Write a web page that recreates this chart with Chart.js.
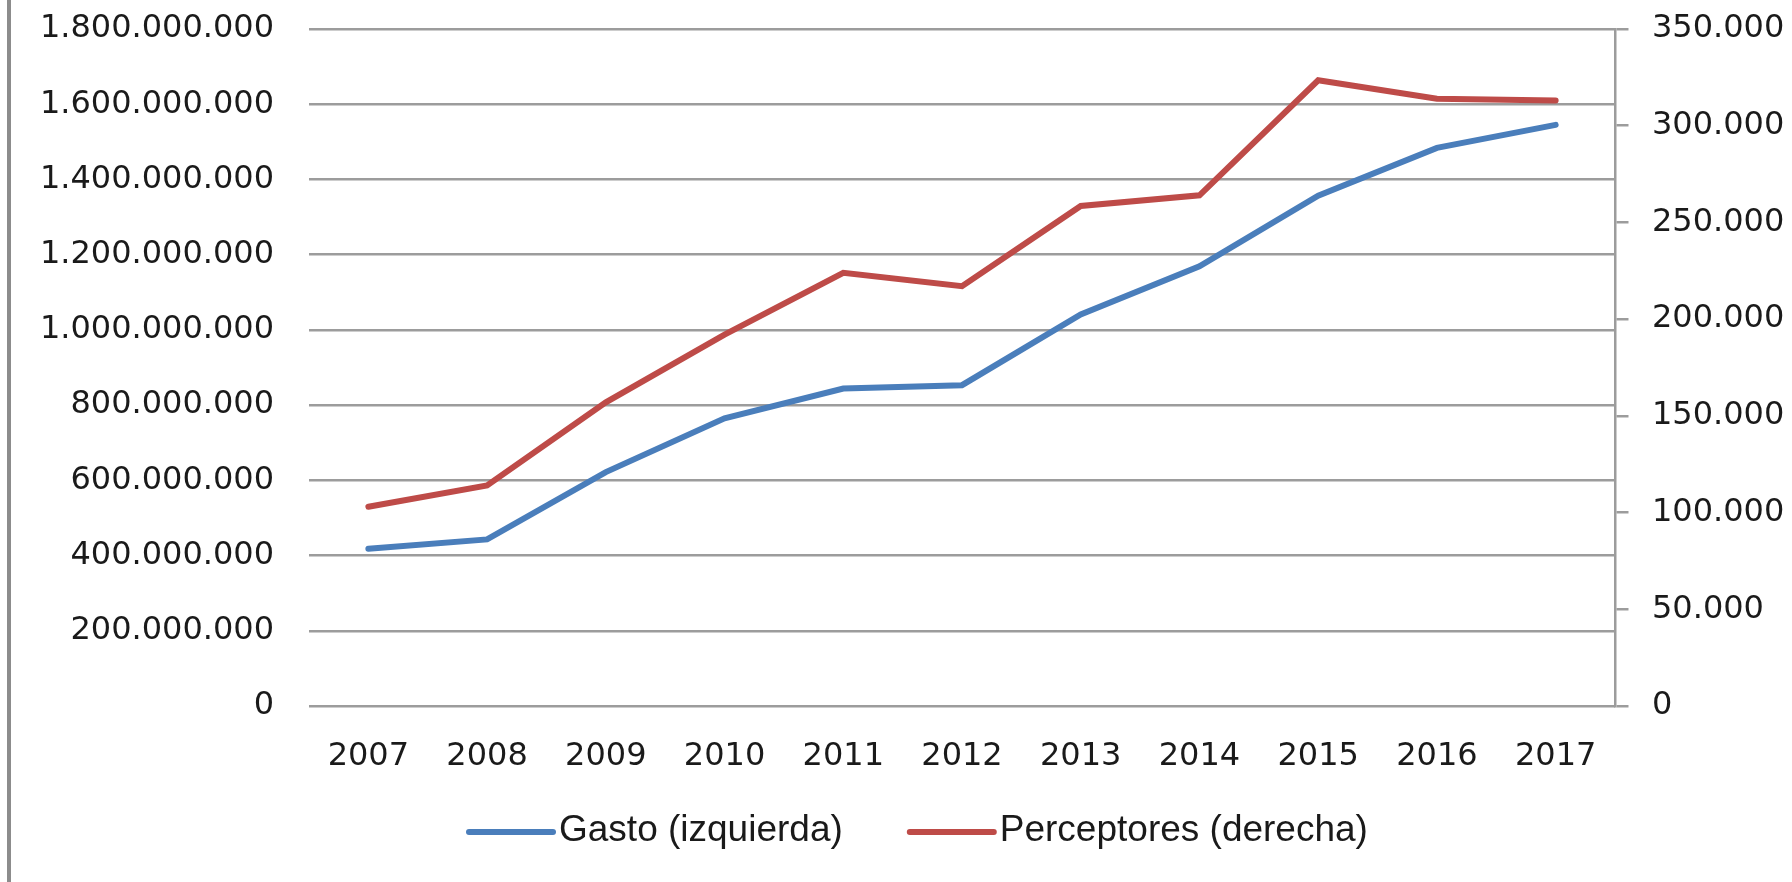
<!DOCTYPE html>
<html lang="es">
<head>
<meta charset="utf-8">
<title>Gasto y perceptores 2007-2017</title>
<script src="https://cdn.jsdelivr.net/npm/chart.js@4/dist/chart.umd.min.js"></script>
<style>
    html, body { margin: 0; padding: 0; background: #fff; }
    .frame { position: relative; width: 1792px; height: 882px; }
    .frame-edge { position: absolute; left: 7px; top: 0; width: 4px; height: 882px; background: #8c8c8c; }
    canvas { display: block; }
</style>
</head>
<body>
<div class="frame">
    <canvas id="chart-gasto" width="1792" height="882"></canvas>
    <div class="frame-edge"></div>
</div>
<script>
const years       = ['2007', '2008', '2009', '2010', '2011', '2012', '2013', '2014', '2015', '2016', '2017'];
const gasto       = [418e6, 443e6, 622e6, 765e6, 844e6, 853e6, 1041e6, 1169e6, 1357e6, 1484e6, 1545e6];
const perceptores = [103000, 114000, 157000, 192000, 224000, 217000, 258500, 264000, 323500, 314000, 313000];
const seriesLabels = ['Gasto (izquierda)', 'Perceptores (derecha)'];
const leftAxisMax  = 1800000000;
const leftAxisStep = 200000000;
const rightAxisMax  = 350000;
const rightAxisStep = 50000;

(function () {
    const colors = {
        blue:  '#4a7ebb',
        red:   '#be4b48',
        grid:  '#9c9c9c',
        text:  '#1a1a1a',
    };
    const tickFont = { family: '"DejaVu Sans", Verdana, sans-serif', size: 32 };

    function formatThousands(value) {
        return String(Math.round(value)).replace(/\B(?=(\d{3})+(?!\d))/g, '.');
    }

    // legend drawn by hand: line sample sits right against the label, like the original
    const lineLegend = {
        id: 'lineLegend',
        afterDraw(chart, args, opts) {
            const ctx = chart.ctx;
            let x = opts.startX;
            ctx.save();
            ctx.font = opts.font;
            ctx.textBaseline = 'middle';
            ctx.textAlign = 'left';
            chart.data.datasets.forEach(ds => {
                ctx.strokeStyle = ds.borderColor;
                ctx.lineWidth = 6;
                ctx.lineCap = 'round';
                ctx.beginPath();
                ctx.moveTo(x, opts.y);
                ctx.lineTo(x + opts.sampleWidth, opts.y);
                ctx.stroke();
                x += opts.sampleWidth + opts.gap;
                ctx.fillStyle = colors.text;
                ctx.fillText(ds.label, x, opts.y - 1);
                x += ctx.measureText(ds.label).width + opts.itemGap;
            });
            ctx.restore();
        },
    };

    new Chart(document.getElementById('chart-gasto'), {
        type: 'line',
        data: {
            labels: years,
            datasets: [
                {
                    label: seriesLabels[0],
                    data: gasto,
                    yAxisID: 'y',
                    borderColor: colors.blue,
                    backgroundColor: colors.blue,
                    borderWidth: 6,
                    pointRadius: 0,
                    tension: 0,
                    borderCapStyle: 'round',
                },
                {
                    label: seriesLabels[1],
                    data: perceptores,
                    yAxisID: 'y1',
                    borderColor: colors.red,
                    backgroundColor: colors.red,
                    borderWidth: 6,
                    pointRadius: 0,
                    tension: 0,
                    borderCapStyle: 'round',
                },
            ],
        },
        options: {
            responsive: false,
            animation: false,
            layout: { padding: { top: 29, left: 0, right: 0, bottom: 0 } },
            plugins: {
                legend: { display: false },
                tooltip: { enabled: false },
                lineLegend: {
                    startX: 469,
                    y: 832,
                    sampleWidth: 84,
                    gap: 6,
                    itemGap: 67,
                    font: '37px "Liberation Sans", Arial, sans-serif',
                },
            },
            scales: {
                x: {
                    offset: true,
                    grid: { display: false },
                    border: { display: false },
                    ticks: { color: colors.text, font: tickFont, padding: 23, maxRotation: 0 },
                    afterFit(scale) { scale.height = 176; },
                },
                y: {
                    position: 'left',
                    min: 0,
                    max: leftAxisMax,
                    // invisible tick marks make the gap between labels and plot
                    grid: { color: colors.grid, lineWidth: 2.5, drawTicks: true, tickLength: 35, tickColor: 'rgba(0,0,0,0)' },
                    border: { display: false },
                    ticks: {
                        stepSize: leftAxisStep,
                        color: colors.text,
                        font: tickFont,
                        padding: 0,
                        callback: v => formatThousands(v),
                    },
                    afterFit(scale) { scale.width = 309; },
                },
                y1: {
                    position: 'right',
                    min: 0,
                    max: rightAxisMax,
                    grid: {
                        drawOnChartArea: false,
                        drawTicks: true,
                        tickLength: 37,
                        tickBorderDash: [12, 80],
                        color: colors.grid,
                        lineWidth: 2.5,
                    },
                    border: { display: true, color: colors.grid, width: 2.5 },
                    ticks: {
                        stepSize: rightAxisStep,
                        color: colors.text,
                        font: tickFont,
                        padding: 0,
                        callback: v => formatThousands(v),
                    },
                    afterFit(scale) { scale.width = 177; },
                },
            },
        },
        plugins: [lineLegend],
    });
})();
</script>
</body>
</html>
